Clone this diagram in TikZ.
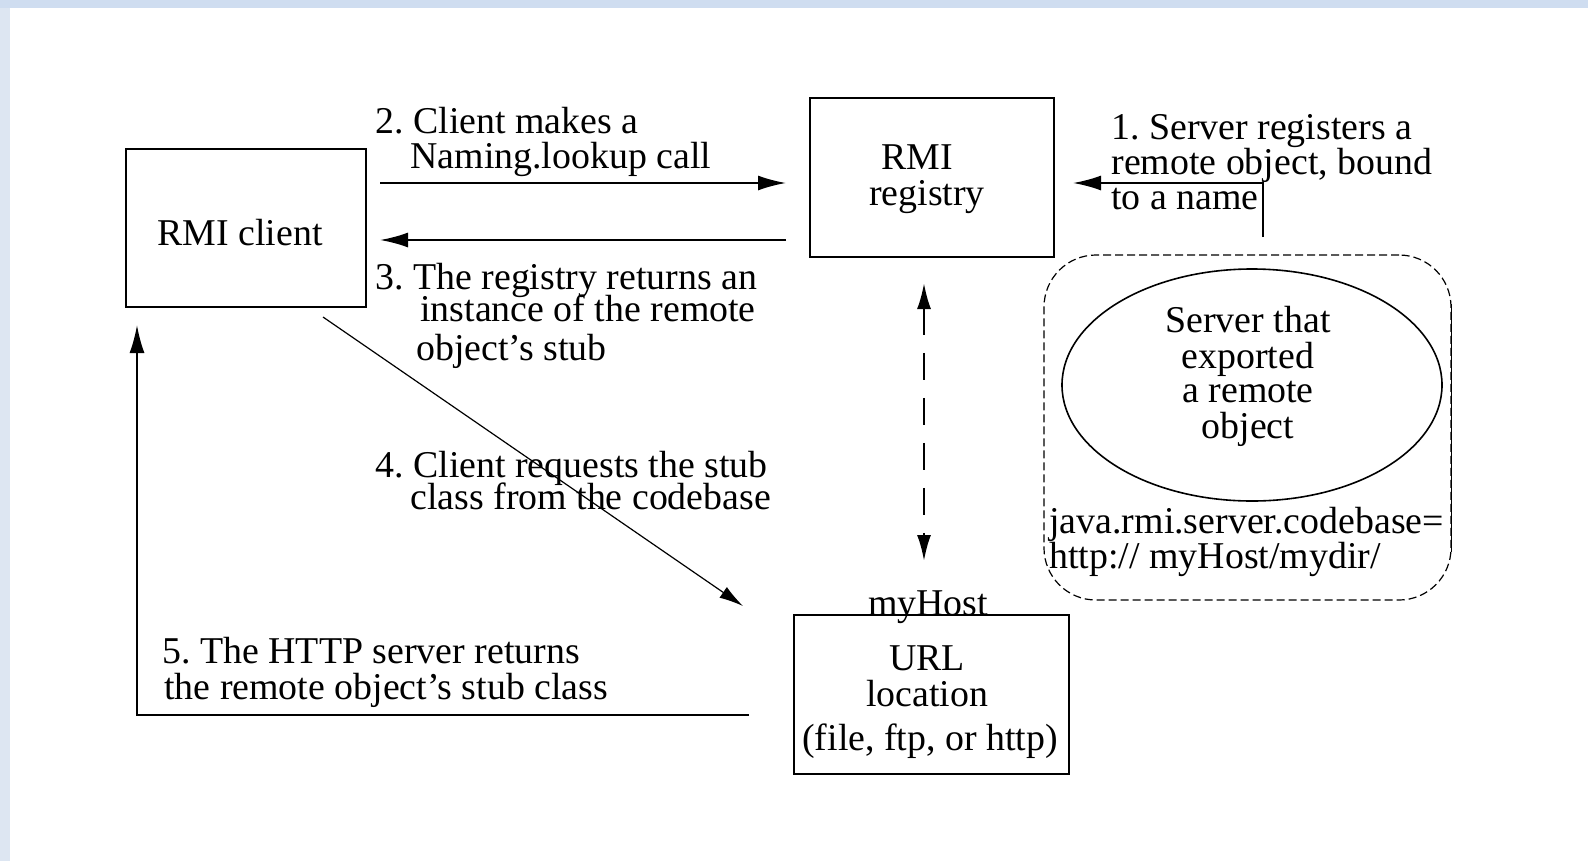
\documentclass[tikz,border=0pt]{standalone}
\usepackage{fontspec}
\setmainfont{Liberation Serif}
\usetikzlibrary{arrows.meta,shapes.geometric,calc}
\definecolor{frametop}{RGB}{207,221,240}
\definecolor{frameside}{RGB}{221,230,242}
\frenchspacing
\begin{document}
\begin{tikzpicture}[x=0.5bp,y=-0.5bp,
  font=\fontsize{19}{20}\selectfont,
  box/.style={draw, line width=1bp, inner sep=0, rectangle},
  flow/.style={line width=1bp, -{Latex[length=14bp,width=7.5bp]}},
  thinflow/.style={line width=0.6bp, -{Latex[length=12bp,width=6.5bp]}},
  dashflow/.style={line width=1.2bp, dash pattern=on 13.5bp off 9bp,
    {Latex[length=13bp,width=7bp]}-{Latex[length=13bp,width=7bp]}},
  txt/.style={anchor=base west, inner sep=0},
  ctxt/.style={anchor=base, inner sep=0}]

% page frame
\useasboundingbox (0,0) rectangle (1588,861);
\fill[frameside] (0,0) rectangle (1588,861);
\fill[frametop] (0,0) rectangle (1588,8);
\fill[white] (10,8) rectangle (1588,861);

% boxes
\node[box, minimum width=120bp, minimum height=79bp] (client) at (246,228) {};
\node[box, minimum width=122bp, minimum height=79.5bp] (registry) at (932,177.5) {};
\node[box, minimum width=137.5bp, minimum height=79.5bp] (url) at (931.5,694.5) {};
\node[draw, line width=0.6bp, dash pattern=on 4bp off 2bp, rounded corners=26bp,
      minimum width=203.5bp, minimum height=172.5bp, inner sep=0] (serverbox) at (1247.5,427.5) {};
\node[draw, ellipse, line width=0.8bp, minimum width=190bp, minimum height=116bp,
      inner sep=0] (server) at (1252,385) {};
\draw[line width=0.8bp] ($(serverbox.east)+(0,-123.5)$) -- ($(serverbox.east)+(0,124.5)$);

% box texts
\node[ctxt] (clientlbl) at (240,245) {RMI client};
\node[ctxt] (reglbla) at (917,169) {RMI};
\node[ctxt] (reglblb) at (927,205) {registry};
\node[ctxt] (urla) at (927,670) {URL};
\node[ctxt] (urlb) at (927,706) {location};
\node[ctxt] (urlc) at (930,750) {(file, ftp, or http)};
\node[ctxt] (host) at (928,615) {myHost};
\node[ctxt] (srva) at (1248,332) {Server that};
\node[ctxt] (srvb) at (1248,368) {exported};
\node[ctxt] (srvc) at (1248,402) {a remote};
\node[ctxt] (srvd) at (1248,438) {object};
\node[txt] (cba) at (1049,533) {java.rmi.server.codebase=};
\node[txt] (cbb) at (1049,568) {http:// myHost/mydir/};

% step labels
\node[txt] (t1a) at (1111,139) {1. Server registers a};
\node[txt] (t1b) at (1111,174) {remote object, bound};
\node[txt] (t1c) at (1111,209) {to a name};
\node[txt] (t2a) at (375,133) {2. Client makes a};
\node[txt] (t2b) at (410,168) {Naming.lookup call};
\node[txt] (t3a) at (375,289) {3. The registry returns an};
\node[txt] (t3b) at (420,321) {instance of the remote};
\node[txt] (t3c) at (416,360) {object’s stub};
\node[txt] (t4a) at (375,477) {4. Client requests the stub};
\node[txt] (t4b) at (410,509) {class from the codebase};
\node[txt] (t5a) at (162,663) {5. The HTTP server returns};
\node[txt] (t5b) at (164,699) {the remote object’s stub class};

% connectors
\coordinate (s1) at (1263,237);
\draw[flow] (s1) |- ($(registry.east)+(18,5.5)$);
\draw[flow] ($(client.east)+(13,-45)$) -- ($(registry.west)+(-23,5.5)$);
\draw[flow] ($(registry.west)+(-23,62.5)$) -- ($(client.east)+(13,12)$);
\draw[dashflow] ($(registry.south)+(-8,25)$) -- ($(url.north)+(-7.5,-53)$);
\draw[thinflow] ($(client.south)+(77,9)$) -- ($(url.west)+(-50,-88.5)$);
\draw[flow] ($(url.west)+(-44,20.5)$) -| ($(client.south)+(-109,17)$);
\end{tikzpicture}
\end{document}
